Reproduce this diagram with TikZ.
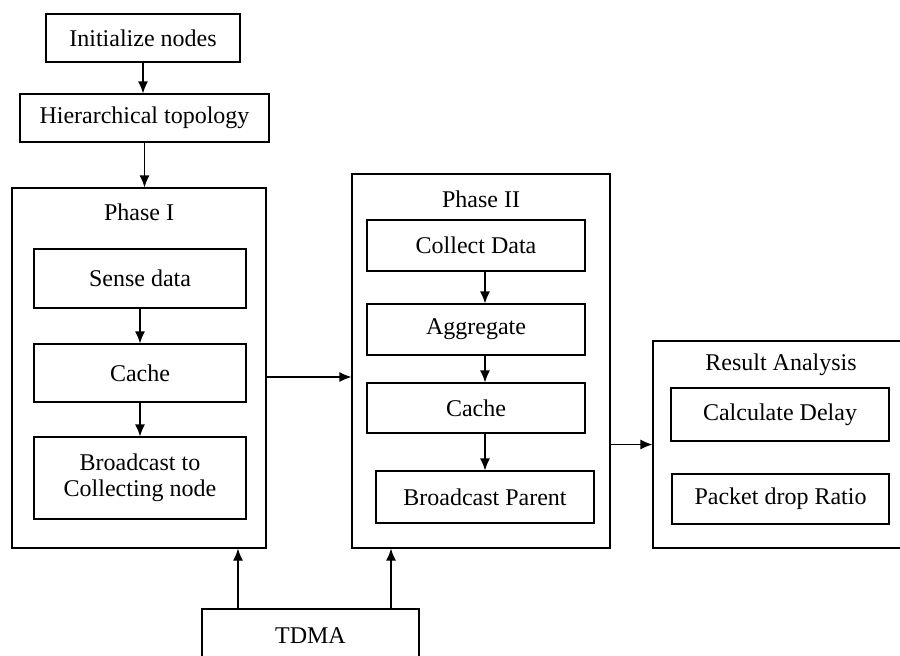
\documentclass[tikz,border=0pt]{standalone}
\usepackage{fontspec}
\setmainfont{Liberation Serif}
\usepackage{tikz}
\usetikzlibrary{arrows.meta}
\tikzset{>={Latex[length=6pt,width=5pt]}}

\begin{document}
\begin{tikzpicture}[x=0.5pt,y=-0.5pt,line width=0.6pt,
    box/.style={draw,inner sep=0pt,align=center,font=\fontsize{12pt}{13pt}\selectfont},
    phase/.style={draw,inner sep=0pt},
    title/.style={font=\fontsize{12pt}{13pt}\selectfont}]
    \useasboundingbox (0,0) rectangle (900,655);
    \node[box,minimum width=97pt,minimum height=24pt] (init) at (143,38) {Initialize nodes};
    \node[box,minimum width=124.5pt,minimum height=24pt] (hier) at (144.5,118) {Hierarchical topology};
    \node[phase,minimum width=127pt,minimum height=180pt] (phase1) at (139,368) {};
    \node[title] (title1) at (139,212) {Phase I};
    \node[box,minimum width=106pt,minimum height=29.5pt] (sense) at (140,278.5) {Sense data};
    \node[box,minimum width=106pt,minimum height=29pt] (cache1) at (140,373) {Cache};
    \node[box,minimum width=106pt,minimum height=41pt] (bcast) at (140,478) {Broadcast to\\Collecting node};
    \node[phase,minimum width=129pt,minimum height=187pt] (phase2) at (481,361) {};
    \node[title] (title2) at (481,199) {Phase II};
    \node[box,minimum width=109pt,minimum height=25.5pt] (collect) at (476,245.5) {Collect Data};
    \node[box,minimum width=109pt,minimum height=25.5pt] (aggr) at (476,329.5) {Aggregate};
    \node[box,minimum width=109pt,minimum height=25pt] (cache2) at (476,408) {Cache};
    \node[box,minimum width=109pt,minimum height=26pt] (parent) at (485,497) {Broadcast Parent};
    \node[phase,minimum width=128.5pt,minimum height=103.5pt] (result) at (781.5,444.5) {};
    \node[title] (title3) at (781,365) {Result Analysis};
    \node[box,minimum width=109pt,minimum height=26.5pt] (delay) at (780,414.5) {Calculate Delay};
    \node[box,minimum width=108.5pt,minimum height=25pt] (drop) at (780.5,499) {Packet drop Ratio};
    \node[box,minimum width=108.5pt,minimum height=26.5pt] (tdma) at (310.5,635.5) {TDMA};
    \draw[->] (init.south) -- (init.south |- hier.north);
    \draw[->] (hier.south) -- (hier.south |- phase1.north);
    \draw[->] (sense.south) -- (cache1.north);
    \draw[->] (cache1.south) -- (bcast.north);
    \draw[->] ([yshift=-2pt]cache1 -| phase1.east) -- ([yshift=-2pt]cache1 -| phase2.west);
    \draw[->] (collect.south -| parent) -- (aggr.north -| parent);
    \draw[->] (aggr.south -| parent) -- (cache2.north -| parent);
    \draw[->] (cache2.south -| parent) -- (parent.north);
    \draw[->] (result -| phase2.east) -- (result.west);
    \draw[->] ([xshift=-36.25pt]tdma.north) -- ([xshift=-36.25pt]tdma.north |- phase1.south);
    \draw[->] ([xshift=40.25pt]tdma.north) -- ([xshift=40.25pt]tdma.north |- phase2.south);
\end{tikzpicture}
\end{document}
